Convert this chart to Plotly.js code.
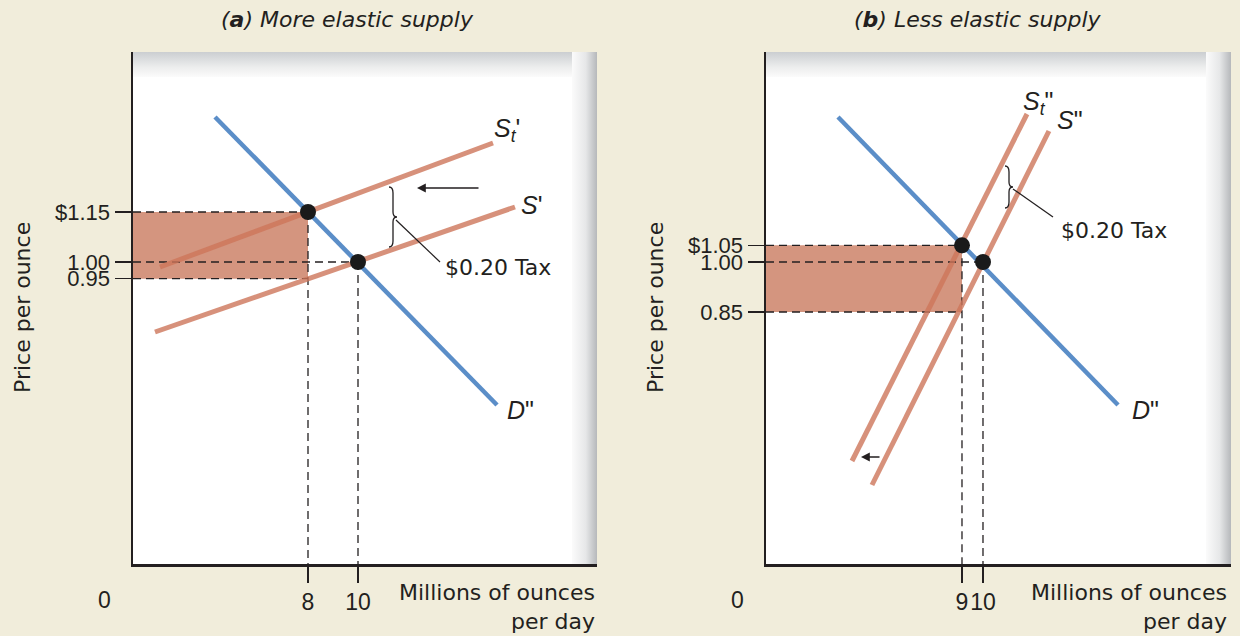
<!DOCTYPE html>
<html>
<head>
<meta charset="utf-8">
<script src="https://cdn.plot.ly/plotly-3.0.1.min.js"></script>
<style>html,body{margin:0;padding:0;background:#f1eddb;}#chart{width:1240px;height:636px;}</style>
</head>
<body>
<div id="chart"></div>
<script>
// ---------- DATA ----------
// Panel (a) More elastic supply: quantity (millions of oz/day) and price ($/oz)
const qA_demand = [4.28, 15.56];
const pA_demand = [1.435, 0.571];
const qA_supply = [1.88, 16.28];
const pA_supply = [0.79, 1.165];
const qA_taxSupply = [2.08, 15.4];
const pA_taxSupply = [0.985, 1.357];
const qA_points = [8, 10];
const pA_points = [1.15, 1.00];
const pA_ticks = [1.15, 1.00, 0.95];
const pA_tickText = ['$1.15', '1.00', '0.95'];
const qA_ticks = [8, 10];
const qA_tickText = ['8', '10'];
const pA_taxBand = [0.95, 1.15];

// Panel (b) Less elastic supply
const qB_demand = [3.095, 16.43];
const pB_demand = [1.435, 0.571];
const qB_supply = [4.714, 13.14];
const pB_supply = [0.331, 1.393];
const qB_taxSupply = [3.762, 12.095];
const pB_taxSupply = [0.403, 1.444];
const qB_points = [9, 10];
const pB_points = [1.05, 1.00];
const pB_ticks = [1.05, 1.00, 0.85];
const pB_tickText = ['$1.05', '1.00', '0.85'];
const qB_ticks = [9, 10];
const qB_tickText = ['9', '10'];
const pB_taxBand = [0.85, 1.05];

const titles = ['<i>(<b>a</b>) More elastic supply</i>', '<i>(<b>b</b>) Less elastic supply</i>'];
const taxLabel = '$0.20 Tax';
const yTitle = 'Price per ounce';
const xTitle = 'Millions of ounces<br>per day';

// ---------- STYLE / LAYOUT ----------
const W = 1240, H = 636;
const BG = '#f1eddb';
const BLUE = '#5b8ec8';
const SALMON = 'rgba(205,117,90,0.8)';
const BAND = '#d4957f';
const INK = '#231f20';
const TEXTFONT = 'DejaVu Sans, Liberation Sans, sans-serif';
const TICKFONT = 'Liberation Sans, Arial, sans-serif';
const PX = v => v / W;
const PY = v => 1 - v / H;

const xRangeA = [1.0, 19.56];
const xRangeB = [-0.333, 21.81];
const yRange = [0.094, 1.63];
const domA = [133, 597], domB = [766, 1231], domY = [52, 564];

function frameSVG(w, h) {
  const b = 25;
  const svg = `<svg xmlns='http://www.w3.org/2000/svg' width='${w}' height='${h}' viewBox='0 0 ${w} ${h}' preserveAspectRatio='none'>
<defs>
<linearGradient id='gt' x1='0' y1='0' x2='0' y2='1'><stop offset='0' stop-color='#cbced1'/><stop offset='0.6' stop-color='#eceded'/><stop offset='1' stop-color='#fbfbfb'/></linearGradient>
<linearGradient id='gr' x1='0' y1='0' x2='1' y2='0'><stop offset='0' stop-color='#fbfbfb'/><stop offset='0.55' stop-color='#e6e7e8'/><stop offset='1' stop-color='#b6b8bb'/></linearGradient>
</defs>
<rect width='${w}' height='${h}' fill='#ffffff'/>
<rect x='0' y='0' width='${w}' height='${b}' fill='url(#gt)'/>
<rect x='${w - b}' y='0' width='${b}' height='${h}' fill='url(#gr)'/>
<path d='M0 ${b + 1} H${w - b - 22} Q${w - b - 2} ${b + 1} ${w - b - 2} ${b + 21} V${h} H0 Z' fill='#ffffff'/>
</svg>`;
  return 'data:image/svg+xml;charset=utf-8,' + encodeURIComponent(svg);
}

function lineTrace(x, y, color, xa, ya, w) {
  return {x: x, y: y, xaxis: xa, yaxis: ya, mode: 'lines', type: 'scatter',
          line: {color: color, width: w || 5}, hoverinfo: 'skip', showlegend: false, cliponaxis: false};
}
function pointTrace(x, y, xa, ya) {
  return {x: x, y: y, xaxis: xa, yaxis: ya, mode: 'markers', type: 'scatter',
          marker: {color: '#1a1a1a', size: 16}, hoverinfo: 'skip', showlegend: false, cliponaxis: false};
}

const data = [
  lineTrace(qA_supply, pA_supply, SALMON, 'x', 'y'),
  lineTrace(qA_taxSupply, pA_taxSupply, SALMON, 'x', 'y'),
  lineTrace(qA_demand, pA_demand, BLUE, 'x', 'y', 4.5),
  pointTrace(qA_points, pA_points, 'x', 'y'),
  lineTrace(qB_supply, pB_supply, SALMON, 'x2', 'y2'),
  lineTrace(qB_taxSupply, pB_taxSupply, SALMON, 'x2', 'y2'),
  lineTrace(qB_demand, pB_demand, BLUE, 'x2', 'y2', 4.5),
  pointTrace(qB_points, pB_points, 'x2', 'y2')
];

const dash = {color: INK, width: 1.3, dash: '8px,5px'};
function guides(xr, yr, xmin, qs, ps, band, bandQ) {
  const s = [];
  s.push({type: 'rect', xref: xr, yref: yr, x0: xmin, x1: bandQ, y0: band[0], y1: band[1],
          fillcolor: BAND, line: {width: 0}, layer: 'below'});
  s.push({type: 'line', xref: xr, yref: yr, x0: xmin, x1: qs[0], y0: ps[0], y1: ps[0], line: dash, layer: 'below'});
  s.push({type: 'line', xref: xr, yref: yr, x0: xmin, x1: qs[1], y0: ps[1], y1: ps[1], line: dash, layer: 'below'});
  s.push({type: 'line', xref: xr, yref: yr, x0: xmin, x1: bandQ, y0: band[0], y1: band[0], line: dash, layer: 'below'});
  s.push({type: 'line', xref: xr, yref: yr, x0: qs[0], x1: qs[0], y0: ps[0], y1: yRange[0], line: dash, layer: 'below'});
  s.push({type: 'line', xref: xr, yref: yr, x0: qs[1], x1: qs[1], y0: ps[1], y1: yRange[0], line: dash, layer: 'below'});
  return s;
}

function brace(x0, y0, y1, d, t) {
  const ym = (y0 + y1) / 2;
  const p = (x, y) => PX(x) + ',' + PY(y);
  return {type: 'path', xref: 'paper', yref: 'paper', layer: 'above',
    line: {color: INK, width: 1.3},
    path: `M${p(x0, y0)} Q${p(x0 + d, y0)} ${p(x0 + d, y0 + 6)} L${p(x0 + d, ym - 5)} Q${p(x0 + d, ym)} ${p(x0 + t, ym)} Q${p(x0 + d, ym)} ${p(x0 + d, ym + 5)} L${p(x0 + d, y1 - 6)} Q${p(x0 + d, y1)} ${p(x0, y1)}`};
}
function seg(x0, y0, x1, y1) {
  return {type: 'line', xref: 'paper', yref: 'paper', x0: PX(x0), y0: PY(y0), x1: PX(x1), y1: PY(y1),
          line: {color: INK, width: 1.2}, layer: 'above'};
}

const shapes = [].concat(
  guides('x', 'y', xRangeA[0], qA_points, pA_points, pA_taxBand, qA_points[0]),
  guides('x2', 'y2', xRangeB[0], qB_points, pB_points, pB_taxBand, qB_points[0]),
  [brace(389, 187, 247, 4, 8), seg(396, 220, 440, 262),
   brace(1005, 166, 208, 4, 8), seg(1013, 189, 1053, 217)]
);

function txt(text, x, y, opts) {
  return Object.assign({text: text, xref: 'paper', yref: 'paper', x: PX(x), y: PY(y), showarrow: false,
    xanchor: 'center', yanchor: 'middle', font: {family: TEXTFONT, size: 22, color: INK}}, opts || {});
}
const LBL = {family: TICKFONT, size: 25, color: INK};

const annotations = [
  txt(titles[0], 347, 20),
  txt(titles[1], 977, 20),
  txt(yTitle, 22, 308, {textangle: -90}),
  txt(yTitle, 655, 308, {textangle: -90}),
  txt(xTitle, 597, 578, {xanchor: 'right', yanchor: 'top', align: 'right'}),
  txt(xTitle, 1229, 578, {xanchor: 'right', yanchor: 'top', align: 'right'}),
  txt('0', 105, 600, {font: {family: TICKFONT, size: 23, color: INK}}),
  txt('0', 737, 600, {font: {family: TICKFONT, size: 23, color: INK}}),
  txt('<i>S</i><sub><i>t</i></sub>\'', 507, 130, {font: LBL}),
  txt('<i>S</i>\'', 531, 205, {font: LBL}),
  txt('<i>D</i>"', 520, 410, {font: LBL}),
  txt(taxLabel, 443, 267, {xanchor: 'left'}),
  txt('<i>S</i><sub><i>t</i></sub>"', 1038, 103, {font: LBL}),
  txt('<i>S</i>"', 1070, 120, {font: LBL}),
  txt('<i>D</i>"', 1145, 410, {font: LBL}),
  txt(taxLabel, 1059, 230, {xanchor: 'left'}),
  {text: '', xref: 'paper', yref: 'paper', x: PX(417), y: PY(188), ax: 63, ay: 0, showarrow: true,
   arrowhead: 2, arrowsize: 1.1, arrowwidth: 1.6, arrowcolor: INK},
  {text: '', xref: 'paper', yref: 'paper', x: PX(861), y: PY(457), ax: 20, ay: 0, showarrow: true,
   arrowhead: 2, arrowsize: 1.1, arrowwidth: 1.6, arrowcolor: INK}
];

function xaxisDef(dom, range, tv, tt, anchor) {
  return {domain: [PX(dom[0]), PX(dom[1])], range: range, anchor: anchor, showgrid: false, zeroline: false,
    showline: true, linecolor: INK, linewidth: 2.5, ticks: 'outside', ticklen: 16, tickwidth: 1.2, tickcolor: INK,
    tickangle: 0, tickvals: tv, ticktext: tt, tickfont: {family: TICKFONT, size: 23, color: INK}, fixedrange: true};
}
function yaxisDef(range, tv, tt, anchor) {
  return {domain: [PY(domY[1]), PY(domY[0])], range: range, anchor: anchor, showgrid: false, zeroline: false,
    showline: true, linecolor: INK, linewidth: 2.5, ticks: 'outside', ticklen: 16, tickwidth: 1.2, tickcolor: INK,
    tickangle: 0, tickvals: tv, ticktext: tt, tickfont: {family: TICKFONT, size: 22, color: INK}, fixedrange: true};
}

const layout = {
  width: W, height: H, margin: {l: 0, r: 0, t: 0, b: 0},
  paper_bgcolor: BG, plot_bgcolor: 'rgba(0,0,0,0)', showlegend: false,
  xaxis: xaxisDef(domA, xRangeA, qA_ticks, qA_tickText, 'y'),
  yaxis: yaxisDef(yRange, pA_ticks, pA_tickText, 'x'),
  xaxis2: xaxisDef(domB, xRangeB, qB_ticks, qB_tickText, 'y2'),
  yaxis2: yaxisDef(yRange, pB_ticks, pB_tickText, 'x2'),
  images: [
    {source: frameSVG(domA[1] - domA[0], domY[1] - domY[0]), xref: 'paper', yref: 'paper',
     x: PX(domA[0]), y: PY(domY[0]), sizex: (domA[1] - domA[0]) / W, sizey: (domY[1] - domY[0]) / H,
     xanchor: 'left', yanchor: 'top', sizing: 'stretch', layer: 'below'},
    {source: frameSVG(domB[1] - domB[0], domY[1] - domY[0]), xref: 'paper', yref: 'paper',
     x: PX(domB[0]), y: PY(domY[0]), sizex: (domB[1] - domB[0]) / W, sizey: (domY[1] - domY[0]) / H,
     xanchor: 'left', yanchor: 'top', sizing: 'stretch', layer: 'below'}
  ],
  shapes: shapes,
  annotations: annotations
};

Plotly.newPlot('chart', data, layout, {staticPlot: true, displayModeBar: false});
</script>
</body>
</html>
